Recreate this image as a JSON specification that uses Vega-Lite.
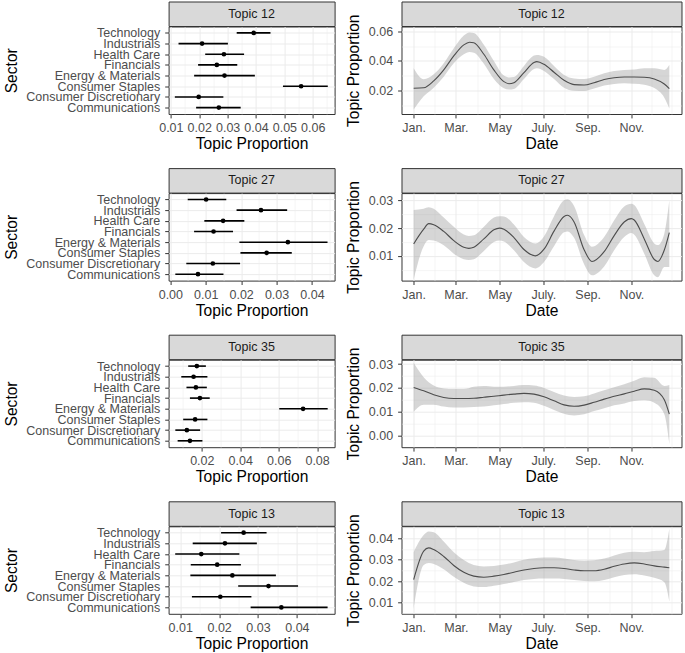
{
  "$schema": "https://vega.github.io/schema/vega-lite/v6.json",
  "background": "white",
  "padding": {"left": 3.6, "top": 0.5, "right": 0, "bottom": 0},
  "config": {
    "font": "Liberation Sans",
    "view": {"stroke": "#333333", "strokeWidth": 1},
    "axis": {
      "labelFont": "Liberation Sans", "labelFontSize": 12.5, "labelColor": "#4D4D4D",
      "titleFont": "Liberation Sans", "titleFontSize": 15.6, "titleFontWeight": "normal", "titleColor": "#000000",
      "tickColor": "#333333", "tickSize": 3.9, "tickWidth": 1, "domain": false,
      "gridColor": "#EBEBEB", "gridWidth": 1, "labelFlush": false, "labelOverlap": false
    },
    "axisX": {"labelPadding": 3.5, "titlePadding": 2.5},
    "axisY": {"labelPadding": 5, "titlePadding": 6.5}
  },
  "datasets": {
    "sectors": [
      {"topic": 12, "sector": "Technology", "est": 0.0392, "lo": 0.0332, "hi": 0.0451},
      {"topic": 12, "sector": "Industrials", "est": 0.0210, "lo": 0.0127, "hi": 0.0301},
      {"topic": 12, "sector": "Health Care", "est": 0.0287, "lo": 0.0221, "hi": 0.0358},
      {"topic": 12, "sector": "Financials", "est": 0.0262, "lo": 0.0196, "hi": 0.0334},
      {"topic": 12, "sector": "Energy & Materials", "est": 0.0289, "lo": 0.0182, "hi": 0.0396},
      {"topic": 12, "sector": "Consumer Staples", "est": 0.0559, "lo": 0.0495, "hi": 0.0653},
      {"topic": 12, "sector": "Consumer Discretionary", "est": 0.0198, "lo": 0.0114, "hi": 0.0285},
      {"topic": 12, "sector": "Communications", "est": 0.0269, "lo": 0.0189, "hi": 0.0346},
      {"topic": 27, "sector": "Technology", "est": 0.0101, "lo": 0.0049, "hi": 0.0158},
      {"topic": 27, "sector": "Industrials", "est": 0.0256, "lo": 0.0187, "hi": 0.0330},
      {"topic": 27, "sector": "Health Care", "est": 0.0149, "lo": 0.0096, "hi": 0.0209},
      {"topic": 27, "sector": "Financials", "est": 0.0122, "lo": 0.0067, "hi": 0.0177},
      {"topic": 27, "sector": "Energy & Materials", "est": 0.0332, "lo": 0.0195, "hi": 0.0444},
      {"topic": 27, "sector": "Consumer Staples", "est": 0.0272, "lo": 0.0198, "hi": 0.0343},
      {"topic": 27, "sector": "Consumer Discretionary", "est": 0.0120, "lo": 0.0045, "hi": 0.0197},
      {"topic": 27, "sector": "Communications", "est": 0.0078, "lo": 0.0014, "hi": 0.0150},
      {"topic": 35, "sector": "Technology", "est": 0.0174, "lo": 0.0129, "hi": 0.0221},
      {"topic": 35, "sector": "Industrials", "est": 0.0157, "lo": 0.0093, "hi": 0.0229},
      {"topic": 35, "sector": "Health Care", "est": 0.0169, "lo": 0.0120, "hi": 0.0226},
      {"topic": 35, "sector": "Financials", "est": 0.0190, "lo": 0.0138, "hi": 0.0241},
      {"topic": 35, "sector": "Energy & Materials", "est": 0.0727, "lo": 0.0603, "hi": 0.0855},
      {"topic": 35, "sector": "Consumer Staples", "est": 0.0165, "lo": 0.0103, "hi": 0.0229},
      {"topic": 35, "sector": "Consumer Discretionary", "est": 0.0122, "lo": 0.0062, "hi": 0.0191},
      {"topic": 35, "sector": "Communications", "est": 0.0138, "lo": 0.0074, "hi": 0.0203},
      {"topic": 13, "sector": "Technology", "est": 0.0263, "lo": 0.0205, "hi": 0.0322},
      {"topic": 13, "sector": "Industrials", "est": 0.0215, "lo": 0.0132, "hi": 0.0297},
      {"topic": 13, "sector": "Health Care", "est": 0.0154, "lo": 0.0087, "hi": 0.0252},
      {"topic": 13, "sector": "Financials", "est": 0.0195, "lo": 0.0127, "hi": 0.0256},
      {"topic": 13, "sector": "Energy & Materials", "est": 0.0234, "lo": 0.0126, "hi": 0.0346},
      {"topic": 13, "sector": "Consumer Staples", "est": 0.0327, "lo": 0.0249, "hi": 0.0403},
      {"topic": 13, "sector": "Consumer Discretionary", "est": 0.0203, "lo": 0.0130, "hi": 0.0283},
      {"topic": 13, "sector": "Communications", "est": 0.0360, "lo": 0.0281, "hi": 0.0479}
    ],
    "series": [
      {"topic": 12, "date": "2021-01-01", "est": 0.0214, "lo": 0.0070, "hi": 0.0350},
      {"topic": 12, "date": "2021-01-15", "est": 0.0217, "lo": 0.0160, "hi": 0.0275},
      {"topic": 12, "date": "2021-01-29", "est": 0.0264, "lo": 0.0218, "hi": 0.0309},
      {"topic": 12, "date": "2021-02-12", "est": 0.0339, "lo": 0.0293, "hi": 0.0384},
      {"topic": 12, "date": "2021-02-26", "est": 0.0434, "lo": 0.0384, "hi": 0.0486},
      {"topic": 12, "date": "2021-03-12", "est": 0.0509, "lo": 0.0445, "hi": 0.0573},
      {"topic": 12, "date": "2021-03-20", "est": 0.0527, "lo": 0.0460, "hi": 0.0594},
      {"topic": 12, "date": "2021-03-26", "est": 0.0523, "lo": 0.0455, "hi": 0.0590},
      {"topic": 12, "date": "2021-04-09", "est": 0.0445, "lo": 0.0380, "hi": 0.0510},
      {"topic": 12, "date": "2021-04-23", "est": 0.0339, "lo": 0.0277, "hi": 0.0400},
      {"topic": 12, "date": "2021-05-07", "est": 0.0259, "lo": 0.0214, "hi": 0.0300},
      {"topic": 12, "date": "2021-05-14", "est": 0.0245, "lo": 0.0205, "hi": 0.0288},
      {"topic": 12, "date": "2021-05-21", "est": 0.0252, "lo": 0.0209, "hi": 0.0291},
      {"topic": 12, "date": "2021-06-04", "est": 0.0320, "lo": 0.0277, "hi": 0.0366},
      {"topic": 12, "date": "2021-06-18", "est": 0.0389, "lo": 0.0345, "hi": 0.0436},
      {"topic": 12, "date": "2021-06-22", "est": 0.0395, "lo": 0.0350, "hi": 0.0440},
      {"topic": 12, "date": "2021-07-02", "est": 0.0377, "lo": 0.0332, "hi": 0.0428},
      {"topic": 12, "date": "2021-07-16", "est": 0.0323, "lo": 0.0277, "hi": 0.0366},
      {"topic": 12, "date": "2021-07-30", "est": 0.0268, "lo": 0.0218, "hi": 0.0305},
      {"topic": 12, "date": "2021-08-13", "est": 0.0239, "lo": 0.0197, "hi": 0.0281},
      {"topic": 12, "date": "2021-08-27", "est": 0.0236, "lo": 0.0195, "hi": 0.0277},
      {"topic": 12, "date": "2021-09-10", "est": 0.0252, "lo": 0.0212, "hi": 0.0293},
      {"topic": 12, "date": "2021-09-24", "est": 0.0273, "lo": 0.0232, "hi": 0.0316},
      {"topic": 12, "date": "2021-10-08", "est": 0.0286, "lo": 0.0243, "hi": 0.0332},
      {"topic": 12, "date": "2021-10-22", "est": 0.0291, "lo": 0.0248, "hi": 0.0339},
      {"topic": 12, "date": "2021-11-05", "est": 0.0291, "lo": 0.0245, "hi": 0.0342},
      {"topic": 12, "date": "2021-11-19", "est": 0.0289, "lo": 0.0238, "hi": 0.0350},
      {"topic": 12, "date": "2021-12-03", "est": 0.0277, "lo": 0.0215, "hi": 0.0350},
      {"topic": 12, "date": "2021-12-17", "est": 0.0243, "lo": 0.0150, "hi": 0.0339},
      {"topic": 12, "date": "2021-12-24", "est": 0.0212, "lo": 0.0077, "hi": 0.0373},
      {"topic": 27, "date": "2021-01-01", "est": 0.0143, "lo": 0.0015, "hi": 0.0265},
      {"topic": 27, "date": "2021-01-15", "est": 0.0196, "lo": 0.0135, "hi": 0.0270},
      {"topic": 27, "date": "2021-01-22", "est": 0.0216, "lo": 0.0157, "hi": 0.0275},
      {"topic": 27, "date": "2021-01-29", "est": 0.0212, "lo": 0.0155, "hi": 0.0270},
      {"topic": 27, "date": "2021-02-12", "est": 0.0188, "lo": 0.0138, "hi": 0.0238},
      {"topic": 27, "date": "2021-02-26", "est": 0.0155, "lo": 0.0108, "hi": 0.0205},
      {"topic": 27, "date": "2021-03-12", "est": 0.0131, "lo": 0.0088, "hi": 0.0177},
      {"topic": 27, "date": "2021-03-19", "est": 0.0127, "lo": 0.0085, "hi": 0.0172},
      {"topic": 27, "date": "2021-03-26", "est": 0.0131, "lo": 0.0088, "hi": 0.0174},
      {"topic": 27, "date": "2021-04-09", "est": 0.0161, "lo": 0.0118, "hi": 0.0205},
      {"topic": 27, "date": "2021-04-23", "est": 0.0194, "lo": 0.0150, "hi": 0.0238},
      {"topic": 27, "date": "2021-05-01", "est": 0.0200, "lo": 0.0155, "hi": 0.0243},
      {"topic": 27, "date": "2021-05-07", "est": 0.0196, "lo": 0.0152, "hi": 0.0242},
      {"topic": 27, "date": "2021-05-21", "est": 0.0166, "lo": 0.0120, "hi": 0.0213},
      {"topic": 27, "date": "2021-06-04", "est": 0.0123, "lo": 0.0078, "hi": 0.0168},
      {"topic": 27, "date": "2021-06-20", "est": 0.0100, "lo": 0.0055, "hi": 0.0145},
      {"topic": 27, "date": "2021-07-02", "est": 0.0124, "lo": 0.0078, "hi": 0.0170},
      {"topic": 27, "date": "2021-07-16", "est": 0.0189, "lo": 0.0135, "hi": 0.0243},
      {"topic": 27, "date": "2021-07-30", "est": 0.0242, "lo": 0.0185, "hi": 0.0300},
      {"topic": 27, "date": "2021-08-04", "est": 0.0246, "lo": 0.0188, "hi": 0.0304},
      {"topic": 27, "date": "2021-08-13", "est": 0.0222, "lo": 0.0165, "hi": 0.0280},
      {"topic": 27, "date": "2021-08-27", "est": 0.0122, "lo": 0.0070, "hi": 0.0175},
      {"topic": 27, "date": "2021-09-07", "est": 0.0080, "lo": 0.0030, "hi": 0.0133},
      {"topic": 27, "date": "2021-09-24", "est": 0.0115, "lo": 0.0062, "hi": 0.0168},
      {"topic": 27, "date": "2021-10-08", "est": 0.0173, "lo": 0.0120, "hi": 0.0228},
      {"topic": 27, "date": "2021-10-22", "est": 0.0222, "lo": 0.0168, "hi": 0.0278},
      {"topic": 27, "date": "2021-11-01", "est": 0.0234, "lo": 0.0182, "hi": 0.0288},
      {"topic": 27, "date": "2021-11-05", "est": 0.0229, "lo": 0.0176, "hi": 0.0283},
      {"topic": 27, "date": "2021-11-19", "est": 0.0161, "lo": 0.0108, "hi": 0.0215},
      {"topic": 27, "date": "2021-12-03", "est": 0.0087, "lo": 0.0030, "hi": 0.0145},
      {"topic": 27, "date": "2021-12-08", "est": 0.0080, "lo": 0.0023, "hi": 0.0139},
      {"topic": 27, "date": "2021-12-17", "est": 0.0121, "lo": 0.0060, "hi": 0.0180},
      {"topic": 27, "date": "2021-12-24", "est": 0.0184, "lo": 0.0060, "hi": 0.0300},
      {"topic": 35, "date": "2021-01-01", "est": 0.0202, "lo": 0.0100, "hi": 0.0305},
      {"topic": 35, "date": "2021-01-15", "est": 0.0188, "lo": 0.0130, "hi": 0.0245},
      {"topic": 35, "date": "2021-01-29", "est": 0.0171, "lo": 0.0130, "hi": 0.0210},
      {"topic": 35, "date": "2021-02-12", "est": 0.0160, "lo": 0.0122, "hi": 0.0198},
      {"topic": 35, "date": "2021-02-26", "est": 0.0156, "lo": 0.0118, "hi": 0.0195},
      {"topic": 35, "date": "2021-03-12", "est": 0.0156, "lo": 0.0118, "hi": 0.0195},
      {"topic": 35, "date": "2021-03-26", "est": 0.0157, "lo": 0.0120, "hi": 0.0205},
      {"topic": 35, "date": "2021-04-09", "est": 0.0161, "lo": 0.0122, "hi": 0.0208},
      {"topic": 35, "date": "2021-04-23", "est": 0.0165, "lo": 0.0127, "hi": 0.0205},
      {"topic": 35, "date": "2021-05-07", "est": 0.0170, "lo": 0.0133, "hi": 0.0205},
      {"topic": 35, "date": "2021-05-21", "est": 0.0174, "lo": 0.0138, "hi": 0.0208},
      {"topic": 35, "date": "2021-06-04", "est": 0.0177, "lo": 0.0140, "hi": 0.0212},
      {"topic": 35, "date": "2021-06-18", "est": 0.0174, "lo": 0.0138, "hi": 0.0210},
      {"topic": 35, "date": "2021-07-02", "est": 0.0163, "lo": 0.0125, "hi": 0.0200},
      {"topic": 35, "date": "2021-07-16", "est": 0.0146, "lo": 0.0108, "hi": 0.0183},
      {"topic": 35, "date": "2021-07-30", "est": 0.0129, "lo": 0.0092, "hi": 0.0168},
      {"topic": 35, "date": "2021-08-13", "est": 0.0123, "lo": 0.0085, "hi": 0.0162},
      {"topic": 35, "date": "2021-08-27", "est": 0.0128, "lo": 0.0090, "hi": 0.0165},
      {"topic": 35, "date": "2021-09-10", "est": 0.0140, "lo": 0.0103, "hi": 0.0177},
      {"topic": 35, "date": "2021-09-24", "est": 0.0153, "lo": 0.0115, "hi": 0.0190},
      {"topic": 35, "date": "2021-10-08", "est": 0.0165, "lo": 0.0127, "hi": 0.0203},
      {"topic": 35, "date": "2021-10-22", "est": 0.0175, "lo": 0.0135, "hi": 0.0215},
      {"topic": 35, "date": "2021-11-05", "est": 0.0186, "lo": 0.0145, "hi": 0.0230},
      {"topic": 35, "date": "2021-11-19", "est": 0.0196, "lo": 0.0148, "hi": 0.0245},
      {"topic": 35, "date": "2021-12-03", "est": 0.0190, "lo": 0.0138, "hi": 0.0242},
      {"topic": 35, "date": "2021-12-17", "est": 0.0150, "lo": 0.0090, "hi": 0.0208},
      {"topic": 35, "date": "2021-12-24", "est": 0.0090, "lo": -0.0035, "hi": 0.0212},
      {"topic": 13, "date": "2021-01-01", "est": 0.0207, "lo": 0.0070, "hi": 0.0335},
      {"topic": 13, "date": "2021-01-15", "est": 0.0340, "lo": 0.0275, "hi": 0.0415},
      {"topic": 13, "date": "2021-01-22", "est": 0.0355, "lo": 0.0285, "hi": 0.0432},
      {"topic": 13, "date": "2021-01-29", "est": 0.0347, "lo": 0.0280, "hi": 0.0428},
      {"topic": 13, "date": "2021-02-12", "est": 0.0315, "lo": 0.0255, "hi": 0.0385},
      {"topic": 13, "date": "2021-02-26", "est": 0.0273, "lo": 0.0220, "hi": 0.0335},
      {"topic": 13, "date": "2021-03-12", "est": 0.0241, "lo": 0.0192, "hi": 0.0298},
      {"topic": 13, "date": "2021-03-26", "est": 0.0223, "lo": 0.0175, "hi": 0.0275},
      {"topic": 13, "date": "2021-04-09", "est": 0.0218, "lo": 0.0172, "hi": 0.0268},
      {"topic": 13, "date": "2021-04-23", "est": 0.0223, "lo": 0.0178, "hi": 0.0270},
      {"topic": 13, "date": "2021-05-07", "est": 0.0231, "lo": 0.0186, "hi": 0.0277},
      {"topic": 13, "date": "2021-05-21", "est": 0.0241, "lo": 0.0196, "hi": 0.0287},
      {"topic": 13, "date": "2021-06-04", "est": 0.0252, "lo": 0.0205, "hi": 0.0300},
      {"topic": 13, "date": "2021-06-18", "est": 0.0259, "lo": 0.0210, "hi": 0.0307},
      {"topic": 13, "date": "2021-07-02", "est": 0.0262, "lo": 0.0212, "hi": 0.0310},
      {"topic": 13, "date": "2021-07-16", "est": 0.0262, "lo": 0.0212, "hi": 0.0310},
      {"topic": 13, "date": "2021-07-30", "est": 0.0259, "lo": 0.0210, "hi": 0.0306},
      {"topic": 13, "date": "2021-08-13", "est": 0.0252, "lo": 0.0205, "hi": 0.0298},
      {"topic": 13, "date": "2021-08-27", "est": 0.0248, "lo": 0.0200, "hi": 0.0295},
      {"topic": 13, "date": "2021-09-10", "est": 0.0248, "lo": 0.0199, "hi": 0.0297},
      {"topic": 13, "date": "2021-09-24", "est": 0.0255, "lo": 0.0205, "hi": 0.0305},
      {"topic": 13, "date": "2021-10-08", "est": 0.0269, "lo": 0.0218, "hi": 0.0320},
      {"topic": 13, "date": "2021-10-22", "est": 0.0280, "lo": 0.0228, "hi": 0.0332},
      {"topic": 13, "date": "2021-11-05", "est": 0.0285, "lo": 0.0232, "hi": 0.0337},
      {"topic": 13, "date": "2021-11-19", "est": 0.0280, "lo": 0.0226, "hi": 0.0335},
      {"topic": 13, "date": "2021-12-03", "est": 0.0271, "lo": 0.0215, "hi": 0.0340},
      {"topic": 13, "date": "2021-12-17", "est": 0.0265, "lo": 0.0195, "hi": 0.0345},
      {"topic": 13, "date": "2021-12-24", "est": 0.0262, "lo": 0.0105, "hi": 0.0444}
    ]
  },
  "spacing": 14.6,
  "vconcat": [
    {"spacing": 9.9, "hconcat": [
      {"spacing": 0, "bounds": "flush", "vconcat": [
        {"width": 166, "height": 24.5, "view": {"fill": "#D9D9D9", "stroke": "#333333"}, "data": {"values": [{"label": "Topic 12"}]}, "mark": {"type": "text", "fontSize": 12.5, "color": "#1A1A1A", "baseline": "middle"}, "encoding": {"text": {"field": "label"}}},
        {"width": 166, "height": 87.5, "data": {"name": "sectors"}, "transform": [{"filter": "datum.topic == 12"}],
          "encoding": {"y": {"field": "sector", "type": "nominal", "sort": ["Technology","Industrials","Health Care","Financials","Energy & Materials","Consumer Staples","Consumer Discretionary","Communications"], "scale": {"type": "point", "padding": 0.6}, "axis": {"title": "Sector", "grid": true}}},
          "layer": [
            {"mark": {"type": "rule", "strokeWidth": 1.6, "color": "#000000"}, "encoding": {"x": {"field": "lo", "type": "quantitative", "scale": {"domain": [0.0092, 0.0677], "nice": false, "zero": false}, "axis": {"title": "Topic Proportion", "values": [0.01,0.015,0.02,0.025,0.03,0.035,0.04,0.045,0.05,0.055,0.06,0.065], "format": ".2f", "labelExpr": "abs(datum.value*100-round(datum.value*100))<0.001 ? datum.label : ''", "gridWidth": {"condition": {"test": "abs(datum.value*100-round(datum.value*100))<0.001", "value": 1}, "value": 0.5}, "tickOpacity": {"condition": {"test": "abs(datum.value*100-round(datum.value*100))<0.001", "value": 1}, "value": 0}}}, "x2": {"field": "hi"}}},
            {"mark": {"type": "circle", "size": 22, "color": "#000000", "opacity": 1}, "encoding": {"x": {"field": "est", "type": "quantitative", "axis": {"title": "Topic Proportion", "values": [0.01,0.015,0.02,0.025,0.03,0.035,0.04,0.045,0.05,0.055,0.06,0.065], "format": ".2f", "labelExpr": "abs(datum.value*100-round(datum.value*100))<0.001 ? datum.label : ''", "gridWidth": {"condition": {"test": "abs(datum.value*100-round(datum.value*100))<0.001", "value": 1}, "value": 0.5}, "tickOpacity": {"condition": {"test": "abs(datum.value*100-round(datum.value*100))<0.001", "value": 1}, "value": 0}}}}}
          ]}
      ]},
      {"spacing": 0, "bounds": "flush", "vconcat": [
        {"width": 280, "height": 24.5, "view": {"fill": "#D9D9D9", "stroke": "#333333"}, "data": {"values": [{"label": "Topic 12"}]}, "mark": {"type": "text", "fontSize": 12.5, "color": "#1A1A1A", "baseline": "middle"}, "encoding": {"text": {"field": "label"}}},
        {"width": 280, "height": 87.5, "data": {"name": "series"}, "transform": [{"filter": "datum.topic == 12"}],
          "encoding": {"x": {"field": "date", "type": "temporal", "scale": {"type": "utc", "domain": [{"year": 2020, "month": 12, "date": 15, "utc": true}, {"year": 2022, "month": 1, "date": 10, "utc": true}]}, "axis": {"title": "Date", "values": [{"year":2021,"month":1,"date":1,"utc":true},{"year":2021,"month":1,"date":30,"utc":true},{"year":2021,"month":3,"date":1,"utc":true},{"year":2021,"month":3,"date":31,"utc":true},{"year":2021,"month":5,"date":1,"utc":true},{"year":2021,"month":5,"date":31,"utc":true},{"year":2021,"month":7,"date":1,"utc":true},{"year":2021,"month":7,"date":31,"utc":true},{"year":2021,"month":9,"date":1,"utc":true},{"year":2021,"month":10,"date":2,"utc":true},{"year":2021,"month":11,"date":1,"utc":true},{"year":2021,"month":11,"date":29,"utc":true},{"year":2021,"month":12,"date":27,"utc":true}], "labelExpr": "utcdate(datum.value)==1 ? ['Jan.','Feb.','Mar.','Apr.','May','Jun.','July.','Aug.','Sep.','Oct.','Nov.','Dec.'][utcmonth(datum.value)] : ''", "gridWidth": {"condition": {"test": "utcdate(datum.value)==1", "value": 1}, "value": 0.5}, "tickOpacity": {"condition": {"test": "utcdate(datum.value)==1", "value": 1}, "value": 0}}}},
          "layer": [
            {"mark": {"type": "area", "color": "#999999", "opacity": 0.4, "interpolate": "monotone"}, "encoding": {"y": {"field": "lo", "type": "quantitative", "scale": {"domain": [0.0039, 0.0634], "nice": false, "zero": false}, "axis": {"title": "Topic Proportion", "values": [0.01,0.02,0.03,0.04,0.05,0.06], "format": ".2f", "labelExpr": "abs(datum.value*50-round(datum.value*50))<0.001 ? datum.label : ''", "gridWidth": {"condition": {"test": "abs(datum.value*50-round(datum.value*50))<0.001", "value": 1}, "value": 0.5}, "tickOpacity": {"condition": {"test": "abs(datum.value*50-round(datum.value*50))<0.001", "value": 1}, "value": 0}}}, "y2": {"field": "hi"}}},
            {"mark": {"type": "line", "color": "#4D4D4D", "strokeWidth": 1.1, "interpolate": "monotone"}, "encoding": {"y": {"field": "est", "type": "quantitative", "axis": {"title": "Topic Proportion", "values": [0.01,0.02,0.03,0.04,0.05,0.06], "format": ".2f", "labelExpr": "abs(datum.value*50-round(datum.value*50))<0.001 ? datum.label : ''", "gridWidth": {"condition": {"test": "abs(datum.value*50-round(datum.value*50))<0.001", "value": 1}, "value": 0.5}, "tickOpacity": {"condition": {"test": "abs(datum.value*50-round(datum.value*50))<0.001", "value": 1}, "value": 0}}}}}
          ]}
      ]}
    ]},
    {"spacing": 9.9, "hconcat": [
      {"spacing": 0, "bounds": "flush", "vconcat": [
        {"width": 166, "height": 24.5, "view": {"fill": "#D9D9D9", "stroke": "#333333"}, "data": {"values": [{"label": "Topic 27"}]}, "mark": {"type": "text", "fontSize": 12.5, "color": "#1A1A1A", "baseline": "middle"}, "encoding": {"text": {"field": "label"}}},
        {"width": 166, "height": 87.5, "data": {"name": "sectors"}, "transform": [{"filter": "datum.topic == 27"}],
          "encoding": {"y": {"field": "sector", "type": "nominal", "sort": ["Technology","Industrials","Health Care","Financials","Energy & Materials","Consumer Staples","Consumer Discretionary","Communications"], "scale": {"type": "point", "padding": 0.6}, "axis": {"title": "Sector", "grid": true}}},
          "layer": [
            {"mark": {"type": "rule", "strokeWidth": 1.6, "color": "#000000"}, "encoding": {"x": {"field": "lo", "type": "quantitative", "scale": {"domain": [-0.0005, 0.0464], "nice": false, "zero": false}, "axis": {"title": "Topic Proportion", "values": [0,0.005,0.01,0.015,0.02,0.025,0.03,0.035,0.04,0.045], "format": ".2f", "labelExpr": "abs(datum.value*100-round(datum.value*100))<0.001 ? datum.label : ''", "gridWidth": {"condition": {"test": "abs(datum.value*100-round(datum.value*100))<0.001", "value": 1}, "value": 0.5}, "tickOpacity": {"condition": {"test": "abs(datum.value*100-round(datum.value*100))<0.001", "value": 1}, "value": 0}}}, "x2": {"field": "hi"}}},
            {"mark": {"type": "circle", "size": 22, "color": "#000000", "opacity": 1}, "encoding": {"x": {"field": "est", "type": "quantitative", "axis": {"title": "Topic Proportion", "values": [0,0.005,0.01,0.015,0.02,0.025,0.03,0.035,0.04,0.045], "format": ".2f", "labelExpr": "abs(datum.value*100-round(datum.value*100))<0.001 ? datum.label : ''", "gridWidth": {"condition": {"test": "abs(datum.value*100-round(datum.value*100))<0.001", "value": 1}, "value": 0.5}, "tickOpacity": {"condition": {"test": "abs(datum.value*100-round(datum.value*100))<0.001", "value": 1}, "value": 0}}}}}
          ]}
      ]},
      {"spacing": 0, "bounds": "flush", "vconcat": [
        {"width": 280, "height": 24.5, "view": {"fill": "#D9D9D9", "stroke": "#333333"}, "data": {"values": [{"label": "Topic 27"}]}, "mark": {"type": "text", "fontSize": 12.5, "color": "#1A1A1A", "baseline": "middle"}, "encoding": {"text": {"field": "label"}}},
        {"width": 280, "height": 87.5, "data": {"name": "series"}, "transform": [{"filter": "datum.topic == 27"}],
          "encoding": {"x": {"field": "date", "type": "temporal", "scale": {"type": "utc", "domain": [{"year": 2020, "month": 12, "date": 15, "utc": true}, {"year": 2022, "month": 1, "date": 10, "utc": true}]}, "axis": {"title": "Date", "values": [{"year":2021,"month":1,"date":1,"utc":true},{"year":2021,"month":1,"date":30,"utc":true},{"year":2021,"month":3,"date":1,"utc":true},{"year":2021,"month":3,"date":31,"utc":true},{"year":2021,"month":5,"date":1,"utc":true},{"year":2021,"month":5,"date":31,"utc":true},{"year":2021,"month":7,"date":1,"utc":true},{"year":2021,"month":7,"date":31,"utc":true},{"year":2021,"month":9,"date":1,"utc":true},{"year":2021,"month":10,"date":2,"utc":true},{"year":2021,"month":11,"date":1,"utc":true},{"year":2021,"month":11,"date":29,"utc":true},{"year":2021,"month":12,"date":27,"utc":true}], "labelExpr": "utcdate(datum.value)==1 ? ['Jan.','Feb.','Mar.','Apr.','May','Jun.','July.','Aug.','Sep.','Oct.','Nov.','Dec.'][utcmonth(datum.value)] : ''", "gridWidth": {"condition": {"test": "utcdate(datum.value)==1", "value": 1}, "value": 0.5}, "tickOpacity": {"condition": {"test": "utcdate(datum.value)==1", "value": 1}, "value": 0}}}},
          "layer": [
            {"mark": {"type": "area", "color": "#999999", "opacity": 0.4, "interpolate": "monotone"}, "encoding": {"y": {"field": "lo", "type": "quantitative", "scale": {"domain": [0.0011, 0.0326], "nice": false, "zero": false}, "axis": {"title": "Topic Proportion", "values": [0.005,0.01,0.015,0.02,0.025,0.03], "format": ".2f", "labelExpr": "abs(datum.value*100-round(datum.value*100))<0.001 ? datum.label : ''", "gridWidth": {"condition": {"test": "abs(datum.value*100-round(datum.value*100))<0.001", "value": 1}, "value": 0.5}, "tickOpacity": {"condition": {"test": "abs(datum.value*100-round(datum.value*100))<0.001", "value": 1}, "value": 0}}}, "y2": {"field": "hi"}}},
            {"mark": {"type": "line", "color": "#4D4D4D", "strokeWidth": 1.1, "interpolate": "monotone"}, "encoding": {"y": {"field": "est", "type": "quantitative", "axis": {"title": "Topic Proportion", "values": [0.005,0.01,0.015,0.02,0.025,0.03], "format": ".2f", "labelExpr": "abs(datum.value*100-round(datum.value*100))<0.001 ? datum.label : ''", "gridWidth": {"condition": {"test": "abs(datum.value*100-round(datum.value*100))<0.001", "value": 1}, "value": 0.5}, "tickOpacity": {"condition": {"test": "abs(datum.value*100-round(datum.value*100))<0.001", "value": 1}, "value": 0}}}}}
          ]}
      ]}
    ]},
    {"spacing": 9.9, "hconcat": [
      {"spacing": 0, "bounds": "flush", "vconcat": [
        {"width": 166, "height": 24.5, "view": {"fill": "#D9D9D9", "stroke": "#333333"}, "data": {"values": [{"label": "Topic 35"}]}, "mark": {"type": "text", "fontSize": 12.5, "color": "#1A1A1A", "baseline": "middle"}, "encoding": {"text": {"field": "label"}}},
        {"width": 166, "height": 87.5, "data": {"name": "sectors"}, "transform": [{"filter": "datum.topic == 35"}],
          "encoding": {"y": {"field": "sector", "type": "nominal", "sort": ["Technology","Industrials","Health Care","Financials","Energy & Materials","Consumer Staples","Consumer Discretionary","Communications"], "scale": {"type": "point", "padding": 0.6}, "axis": {"title": "Sector", "grid": true}}},
          "layer": [
            {"mark": {"type": "rule", "strokeWidth": 1.6, "color": "#000000"}, "encoding": {"x": {"field": "lo", "type": "quantitative", "scale": {"domain": [0.0027, 0.0891], "nice": false, "zero": false}, "axis": {"title": "Topic Proportion", "values": [0.01,0.02,0.03,0.04,0.05,0.06,0.07,0.08], "format": ".2f", "labelExpr": "abs(datum.value*50-round(datum.value*50))<0.001 ? datum.label : ''", "gridWidth": {"condition": {"test": "abs(datum.value*50-round(datum.value*50))<0.001", "value": 1}, "value": 0.5}, "tickOpacity": {"condition": {"test": "abs(datum.value*50-round(datum.value*50))<0.001", "value": 1}, "value": 0}}}, "x2": {"field": "hi"}}},
            {"mark": {"type": "circle", "size": 22, "color": "#000000", "opacity": 1}, "encoding": {"x": {"field": "est", "type": "quantitative", "axis": {"title": "Topic Proportion", "values": [0.01,0.02,0.03,0.04,0.05,0.06,0.07,0.08], "format": ".2f", "labelExpr": "abs(datum.value*50-round(datum.value*50))<0.001 ? datum.label : ''", "gridWidth": {"condition": {"test": "abs(datum.value*50-round(datum.value*50))<0.001", "value": 1}, "value": 0.5}, "tickOpacity": {"condition": {"test": "abs(datum.value*50-round(datum.value*50))<0.001", "value": 1}, "value": 0}}}}}
          ]}
      ]},
      {"spacing": 0, "bounds": "flush", "vconcat": [
        {"width": 280, "height": 24.5, "view": {"fill": "#D9D9D9", "stroke": "#333333"}, "data": {"values": [{"label": "Topic 35"}]}, "mark": {"type": "text", "fontSize": 12.5, "color": "#1A1A1A", "baseline": "middle"}, "encoding": {"text": {"field": "label"}}},
        {"width": 280, "height": 87.5, "data": {"name": "series"}, "transform": [{"filter": "datum.topic == 35"}],
          "encoding": {"x": {"field": "date", "type": "temporal", "scale": {"type": "utc", "domain": [{"year": 2020, "month": 12, "date": 15, "utc": true}, {"year": 2022, "month": 1, "date": 10, "utc": true}]}, "axis": {"title": "Date", "values": [{"year":2021,"month":1,"date":1,"utc":true},{"year":2021,"month":1,"date":30,"utc":true},{"year":2021,"month":3,"date":1,"utc":true},{"year":2021,"month":3,"date":31,"utc":true},{"year":2021,"month":5,"date":1,"utc":true},{"year":2021,"month":5,"date":31,"utc":true},{"year":2021,"month":7,"date":1,"utc":true},{"year":2021,"month":7,"date":31,"utc":true},{"year":2021,"month":9,"date":1,"utc":true},{"year":2021,"month":10,"date":2,"utc":true},{"year":2021,"month":11,"date":1,"utc":true},{"year":2021,"month":11,"date":29,"utc":true},{"year":2021,"month":12,"date":27,"utc":true}], "labelExpr": "utcdate(datum.value)==1 ? ['Jan.','Feb.','Mar.','Apr.','May','Jun.','July.','Aug.','Sep.','Oct.','Nov.','Dec.'][utcmonth(datum.value)] : ''", "gridWidth": {"condition": {"test": "utcdate(datum.value)==1", "value": 1}, "value": 0.5}, "tickOpacity": {"condition": {"test": "utcdate(datum.value)==1", "value": 1}, "value": 0}}}},
          "layer": [
            {"mark": {"type": "area", "color": "#999999", "opacity": 0.4, "interpolate": "monotone"}, "encoding": {"y": {"field": "lo", "type": "quantitative", "scale": {"domain": [-0.0048, 0.0318], "nice": false, "zero": false}, "axis": {"title": "Topic Proportion", "values": [0,0.005,0.01,0.015,0.02,0.025,0.03], "format": ".2f", "labelExpr": "abs(datum.value*100-round(datum.value*100))<0.001 ? datum.label : ''", "gridWidth": {"condition": {"test": "abs(datum.value*100-round(datum.value*100))<0.001", "value": 1}, "value": 0.5}, "tickOpacity": {"condition": {"test": "abs(datum.value*100-round(datum.value*100))<0.001", "value": 1}, "value": 0}}}, "y2": {"field": "hi"}}},
            {"mark": {"type": "line", "color": "#4D4D4D", "strokeWidth": 1.1, "interpolate": "monotone"}, "encoding": {"y": {"field": "est", "type": "quantitative", "axis": {"title": "Topic Proportion", "values": [0,0.005,0.01,0.015,0.02,0.025,0.03], "format": ".2f", "labelExpr": "abs(datum.value*100-round(datum.value*100))<0.001 ? datum.label : ''", "gridWidth": {"condition": {"test": "abs(datum.value*100-round(datum.value*100))<0.001", "value": 1}, "value": 0.5}, "tickOpacity": {"condition": {"test": "abs(datum.value*100-round(datum.value*100))<0.001", "value": 1}, "value": 0}}}}}
          ]}
      ]}
    ]},
    {"spacing": 9.9, "hconcat": [
      {"spacing": 0, "bounds": "flush", "vconcat": [
        {"width": 166, "height": 24.5, "view": {"fill": "#D9D9D9", "stroke": "#333333"}, "data": {"values": [{"label": "Topic 13"}]}, "mark": {"type": "text", "fontSize": 12.5, "color": "#1A1A1A", "baseline": "middle"}, "encoding": {"text": {"field": "label"}}},
        {"width": 166, "height": 87.5, "data": {"name": "sectors"}, "transform": [{"filter": "datum.topic == 13"}],
          "encoding": {"y": {"field": "sector", "type": "nominal", "sort": ["Technology","Industrials","Health Care","Financials","Energy & Materials","Consumer Staples","Consumer Discretionary","Communications"], "scale": {"type": "point", "padding": 0.6}, "axis": {"title": "Sector", "grid": true}}},
          "layer": [
            {"mark": {"type": "rule", "strokeWidth": 1.6, "color": "#000000"}, "encoding": {"x": {"field": "lo", "type": "quantitative", "scale": {"domain": [0.0070, 0.0497], "nice": false, "zero": false}, "axis": {"title": "Topic Proportion", "values": [0.01,0.015,0.02,0.025,0.03,0.035,0.04,0.045], "format": ".2f", "labelExpr": "abs(datum.value*100-round(datum.value*100))<0.001 ? datum.label : ''", "gridWidth": {"condition": {"test": "abs(datum.value*100-round(datum.value*100))<0.001", "value": 1}, "value": 0.5}, "tickOpacity": {"condition": {"test": "abs(datum.value*100-round(datum.value*100))<0.001", "value": 1}, "value": 0}}}, "x2": {"field": "hi"}}},
            {"mark": {"type": "circle", "size": 22, "color": "#000000", "opacity": 1}, "encoding": {"x": {"field": "est", "type": "quantitative", "axis": {"title": "Topic Proportion", "values": [0.01,0.015,0.02,0.025,0.03,0.035,0.04,0.045], "format": ".2f", "labelExpr": "abs(datum.value*100-round(datum.value*100))<0.001 ? datum.label : ''", "gridWidth": {"condition": {"test": "abs(datum.value*100-round(datum.value*100))<0.001", "value": 1}, "value": 0.5}, "tickOpacity": {"condition": {"test": "abs(datum.value*100-round(datum.value*100))<0.001", "value": 1}, "value": 0}}}}}
          ]}
      ]},
      {"spacing": 0, "bounds": "flush", "vconcat": [
        {"width": 280, "height": 24.5, "view": {"fill": "#D9D9D9", "stroke": "#333333"}, "data": {"values": [{"label": "Topic 13"}]}, "mark": {"type": "text", "fontSize": 12.5, "color": "#1A1A1A", "baseline": "middle"}, "encoding": {"text": {"field": "label"}}},
        {"width": 280, "height": 87.5, "data": {"name": "series"}, "transform": [{"filter": "datum.topic == 13"}],
          "encoding": {"x": {"field": "date", "type": "temporal", "scale": {"type": "utc", "domain": [{"year": 2020, "month": 12, "date": 15, "utc": true}, {"year": 2022, "month": 1, "date": 10, "utc": true}]}, "axis": {"title": "Date", "values": [{"year":2021,"month":1,"date":1,"utc":true},{"year":2021,"month":1,"date":30,"utc":true},{"year":2021,"month":3,"date":1,"utc":true},{"year":2021,"month":3,"date":31,"utc":true},{"year":2021,"month":5,"date":1,"utc":true},{"year":2021,"month":5,"date":31,"utc":true},{"year":2021,"month":7,"date":1,"utc":true},{"year":2021,"month":7,"date":31,"utc":true},{"year":2021,"month":9,"date":1,"utc":true},{"year":2021,"month":10,"date":2,"utc":true},{"year":2021,"month":11,"date":1,"utc":true},{"year":2021,"month":11,"date":29,"utc":true},{"year":2021,"month":12,"date":27,"utc":true}], "labelExpr": "utcdate(datum.value)==1 ? ['Jan.','Feb.','Mar.','Apr.','May','Jun.','July.','Aug.','Sep.','Oct.','Nov.','Dec.'][utcmonth(datum.value)] : ''", "gridWidth": {"condition": {"test": "utcdate(datum.value)==1", "value": 1}, "value": 0.5}, "tickOpacity": {"condition": {"test": "utcdate(datum.value)==1", "value": 1}, "value": 0}}}},
          "layer": [
            {"mark": {"type": "area", "color": "#999999", "opacity": 0.4, "interpolate": "monotone"}, "encoding": {"y": {"field": "lo", "type": "quantitative", "scale": {"domain": [0.0047, 0.0456], "nice": false, "zero": false}, "axis": {"title": "Topic Proportion", "values": [0.005,0.01,0.015,0.02,0.025,0.03,0.035,0.04,0.045], "format": ".2f", "labelExpr": "abs(datum.value*100-round(datum.value*100))<0.001 ? datum.label : ''", "gridWidth": {"condition": {"test": "abs(datum.value*100-round(datum.value*100))<0.001", "value": 1}, "value": 0.5}, "tickOpacity": {"condition": {"test": "abs(datum.value*100-round(datum.value*100))<0.001", "value": 1}, "value": 0}}}, "y2": {"field": "hi"}}},
            {"mark": {"type": "line", "color": "#4D4D4D", "strokeWidth": 1.1, "interpolate": "monotone"}, "encoding": {"y": {"field": "est", "type": "quantitative", "axis": {"title": "Topic Proportion", "values": [0.005,0.01,0.015,0.02,0.025,0.03,0.035,0.04,0.045], "format": ".2f", "labelExpr": "abs(datum.value*100-round(datum.value*100))<0.001 ? datum.label : ''", "gridWidth": {"condition": {"test": "abs(datum.value*100-round(datum.value*100))<0.001", "value": 1}, "value": 0.5}, "tickOpacity": {"condition": {"test": "abs(datum.value*100-round(datum.value*100))<0.001", "value": 1}, "value": 0}}}}}
          ]}
      ]}
    ]}
  ]
}
